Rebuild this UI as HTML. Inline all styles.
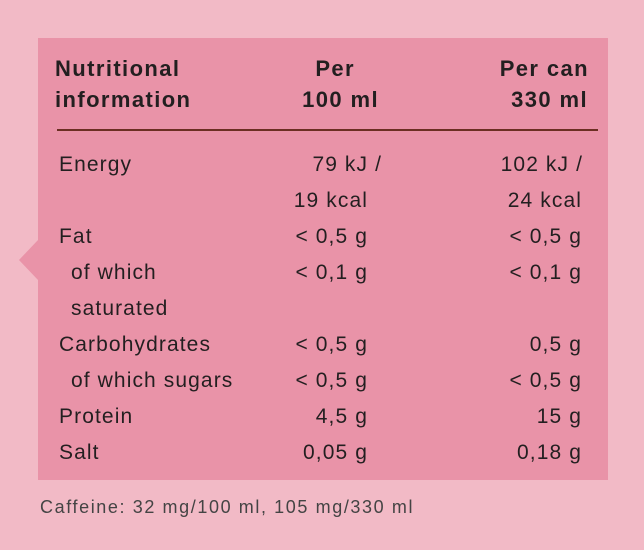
<!DOCTYPE html>
<html><head><meta charset="utf-8"><style>
body{margin:0;width:644px;height:550px;background:#f2bac6;position:relative;overflow:hidden;font-family:"Liberation Sans",sans-serif;color:#231f20}
.box{position:absolute;left:38px;top:38px;width:570px;height:442px;background:#e993a8}
.tri{position:absolute;left:19px;top:240px;width:0;height:0;border-top:20px solid transparent;border-bottom:20px solid transparent;border-right:19px solid #e993a8}
.t{position:absolute;white-space:nowrap;font-size:21px;line-height:20px;letter-spacing:1.1px}
.h{font-weight:bold;font-size:22px;letter-spacing:1.4px}
.r{text-align:right}
.line{position:absolute;left:57px;top:129px;width:541px;height:2px;background:#6b2e22}
.f{position:absolute;left:40px;top:497px;font-size:18px;color:#444;letter-spacing:1.6px;white-space:nowrap}
</style></head><body>
<div class="tri"></div>
<div class="box"></div>
<div class="t h" style="left:55px;top:59px">Nutritional</div>
<div class="t h" style="left:55px;top:90px">information</div>
<div class="t h r" style="right:289px;top:59px">Per</div>
<div class="t h r" style="right:265px;top:90px">100 ml</div>
<div class="t h r" style="right:55px;top:59px">Per can</div>
<div class="t h r" style="right:56px;top:90px">330 ml</div>
<div class="line"></div>

<div class="t" style="left:59px;top:155px">Energy</div>
<div class="t" style="left:59px;top:227px">Fat</div>
<div class="t" style="left:71px;top:263px">of which</div>
<div class="t" style="left:71px;top:299px">saturated</div>
<div class="t" style="left:59px;top:335px">Carbohydrates</div>
<div class="t" style="left:71px;top:371px">of which sugars</div>
<div class="t" style="left:59px;top:407px">Protein</div>
<div class="t" style="left:59px;top:443px">Salt</div>

<div class="t r" style="right:262px;top:155px">79 kJ /</div>
<div class="t r" style="right:276px;top:191px">19 kcal</div>
<div class="t r" style="right:276px;top:227px">&lt; 0,5 g</div>
<div class="t r" style="right:276px;top:263px">&lt; 0,1 g</div>
<div class="t r" style="right:276px;top:335px">&lt; 0,5 g</div>
<div class="t r" style="right:276px;top:371px">&lt; 0,5 g</div>
<div class="t r" style="right:276px;top:407px">4,5 g</div>
<div class="t r" style="right:276px;top:443px">0,05 g</div>

<div class="t r" style="right:61px;top:155px">102 kJ /</div>
<div class="t r" style="right:62px;top:191px">24 kcal</div>
<div class="t r" style="right:62px;top:227px">&lt; 0,5 g</div>
<div class="t r" style="right:62px;top:263px">&lt; 0,1 g</div>
<div class="t r" style="right:62px;top:335px">0,5 g</div>
<div class="t r" style="right:62px;top:371px">&lt; 0,5 g</div>
<div class="t r" style="right:62px;top:407px">15 g</div>
<div class="t r" style="right:62px;top:443px">0,18 g</div>

<div class="f">Caffeine: 32 mg/100 ml, 105 mg/330 ml</div>
</body></html>
